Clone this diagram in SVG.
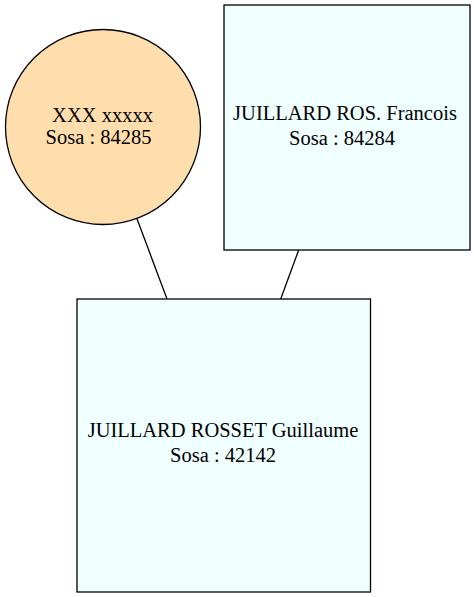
<svg xmlns="http://www.w3.org/2000/svg" width="474" height="597" viewBox="0 0 474 597">
<style>
text{font-family:"Liberation Serif","Times New Roman",serif;font-size:20.5px;fill:#000;text-anchor:middle}
.box{fill:#f0ffff;stroke:#000;stroke-width:1.3}
.edge{stroke:#000;stroke-width:1.3;fill:none}
</style>
<rect width="474" height="597" fill="#fff"/>
<g id="edges">
<line class="edge" x1="136.7" y1="218" x2="167" y2="299"/>
<line class="edge" x1="298.7" y1="250" x2="280.7" y2="299"/>
</g>
<g id="n84285">
<circle cx="103" cy="127" r="97.5" fill="#ffdead" stroke="#000" stroke-width="1.3"/>
<text x="102.5" y="122">XXX xxxxx</text>
<text x="98.5" y="144">Sosa : 84285</text>
</g>
<g id="n84284">
<rect class="box" x="224" y="5" width="246" height="245"/>
<text x="345" y="120">JUILLARD ROS. Francois</text>
<text x="342" y="145">Sosa : 84284</text>
</g>
<g id="n42142">
<rect class="box" x="77" y="299" width="293.5" height="293"/>
<text x="223" y="437">JUILLARD ROSSET Guillaume</text>
<text x="223" y="462">Sosa : 42142</text>
</g>
</svg>
